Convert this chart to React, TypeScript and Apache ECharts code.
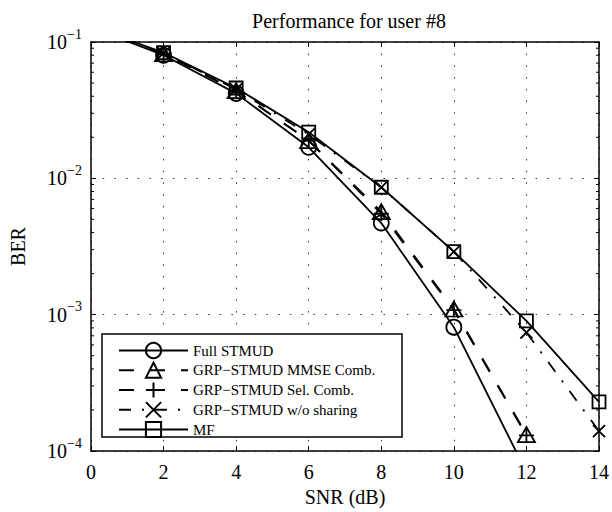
import React, { useEffect, useRef } from 'react';
import * as echarts from 'echarts';

// ---- data ----
const snr = [0, 2, 4, 6, 8, 10, 12, 14];
const fullStmud = [0.128, 0.080, 0.042, 0.0169, 0.0047, 0.00081, 0.00007, null];
const grpMmse = [0.13, 0.082, 0.044, 0.0189, 0.0057, 0.0011, 0.000132, null];
const grpSel = [0.13, 0.082, 0.044, 0.0189, 0.0055, 0.00108, 0.00013, null];
const grpNoShare = [0.13, 0.083, 0.045, 0.021, 0.0086, 0.0029, 0.00074, 0.00014];
const mf = [0.13, 0.0835, 0.046, 0.0218, 0.0086, 0.0029, 0.0009, 0.000229];
const seriesNames = [
  'Full STMUD',
  'GRP\u2212STMUD MMSE Comb.',
  'GRP\u2212STMUD Sel. Comb.',
  'GRP\u2212STMUD w/o sharing',
  'MF',
];
const xTicks = [0, 2, 4, 6, 8, 10, 12, 14];
const yDecades = [1e-4, 1e-3, 1e-2, 1e-1];
const yTickExponents = ['\u22124', '\u22123', '\u22122', '\u22121'];
const minorMultipliers = [2, 3, 4, 5, 6, 7, 8, 9];

const FONT = "'Liberation Serif', 'DejaVu Serif', 'Times New Roman', serif";

const PLUS = 'path://M5,0L5,10M0,5L10,5';
const CROSS = 'path://M0,0L10,10M10,0L0,10';

export default function App() {
  const ref = useRef<HTMLDivElement>(null);

  useEffect(() => {
    if (!ref.current) return;
    const chart = echarts.init(ref.current, null, { renderer: 'svg' });

    const toPairs = (vals: (number | null)[]) => snr.map((x, i) => [x, vals[i] === null ? null : vals[i]]);

    const minorTicks: number[] = [];
    for (let d = 0; d < yDecades.length - 1; d++) {
      for (const m of minorMultipliers) minorTicks.push(yDecades[d] * m);
    }

    const lineBase = (name: string, vals: (number | null)[], symbol: string, symbolSize: any, dash: any) => ({
      name,
      type: 'line',
      data: toPairs(vals),
      symbol,
      symbolSize,
      showSymbol: true,
      connectNulls: false,
      clip: true,
      lineStyle: { color: '#000', width: 1.8, type: dash },
      itemStyle: { color: 'transparent', borderColor: '#000', borderWidth: 1.8 },
      emphasis: { disabled: true },
      z: 3,
    });

    const axisCommon = {
      axisLine: { show: true, onZero: false, lineStyle: { color: '#000', width: 1.5 } },
      axisTick: { show: true, inside: true, length: 5, lineStyle: { color: '#000', width: 1 } },
    };

    chart.setOption({
      animation: false,
      backgroundColor: '#fff',
      title: {
        text: 'Performance for user #8',
        left: 344,
        textAlign: 'center',
        top: 6,
        textStyle: { fontFamily: FONT, fontSize: 20, fontWeight: 'normal', color: '#000' },
      },
      grid: { left: 89, right: 12, top: 42, bottom: 61, containLabel: false },
      xAxis: [
        {
          type: 'value',
          min: 0,
          max: 14,
          interval: 2,
          position: 'bottom',
          name: 'SNR (dB)',
          nameLocation: 'middle',
          nameGap: 33,
          nameTextStyle: { fontFamily: FONT, fontSize: 20, color: '#000' },
          ...axisCommon,
          axisLabel: {
            fontFamily: FONT,
            fontSize: 20,
            color: '#000',
            margin: 11,
            formatter: (v: number) => String(xTicks[xTicks.indexOf(v)]),
          },
          splitLine: { show: true, lineStyle: { color: '#333', width: 1, type: [1.5, 10.2] } },
        },
        {
          type: 'value',
          min: 0,
          max: 14,
          interval: 2,
          position: 'top',
          ...axisCommon,
          axisLabel: { show: false },
          splitLine: { show: false },
        },
      ],
      yAxis: [
        {
          type: 'log',
          logBase: 10,
          min: 1e-4,
          max: 1e-1,
          interval: 1,
          position: 'left',
          name: 'BER',
          nameLocation: 'middle',
          nameGap: 63,
          nameRotate: 90,
          nameTextStyle: { fontFamily: FONT, fontSize: 20, color: '#000' },
          ...axisCommon,
          axisLabel: {
            margin: 9,
            formatter: (v: number) => {
              const i = yDecades.findIndex((d) => Math.abs(Math.log10(d) - Math.log10(v)) < 0.01);
              return `{b|10}{s|${yTickExponents[i]}}`;
            },
            rich: {
              b: { fontFamily: FONT, fontSize: 20, color: '#000' },
              s: { fontFamily: FONT, fontSize: 14, color: '#000', padding: [0, 0, 16, 0] },
            },
          },
          splitLine: { show: true, lineStyle: { color: '#333', width: 1, type: [1.5, 10.2] } },
        },
        {
          type: 'log',
          logBase: 10,
          min: 1e-4,
          max: 1e-1,
          interval: 1,
          position: 'right',
          ...axisCommon,
          axisLabel: { show: false },
          splitLine: { show: false },
        },
      ],
      legend: {
        data: seriesNames,
        orient: 'vertical',
        left: 113,
        top: 336,
        itemWidth: 69,
        itemHeight: 19,
        itemGap: 0.75,
        selectedMode: false,
        textStyle: { fontFamily: FONT, fontSize: 15, color: '#000', lineHeight: 19 },
        z: 20,
      },
      graphic: [
        {
          type: 'rect',
          shape: { x: 102, y: 334, width: 300, height: 103 },
          style: { fill: '#fff', stroke: '#000', lineWidth: 1.5 },
          z: 15,
          silent: true,
        },
      ],
      series: [
        lineBase(seriesNames[0], fullStmud, 'circle', 15, 'solid'),
        lineBase(seriesNames[1], grpMmse, 'triangle', [17, 15], [15, 16]),
        lineBase(seriesNames[2], grpSel, PLUS, 15, [15, 16]),
        lineBase(seriesNames[3], grpNoShare, CROSS, 12, [12, 11, 2, 11]),
        lineBase(seriesNames[4], mf, 'rect', 13, 'solid'),
        {
          type: 'custom',
          name: 'minorTicks',
          silent: true,
          clip: false,
          z: 5,
          data: minorTicks.map((v) => [0, v]),
          renderItem: (_params: any, api: any) => {
            const v = api.value(1);
            const p0 = api.coord([0, v]);
            const p1 = api.coord([14, v]);
            const st = { stroke: '#000', lineWidth: 1 };
            return {
              type: 'group',
              children: [
                { type: 'line', shape: { x1: p0[0], y1: p0[1], x2: p0[0] + 3, y2: p0[1] }, style: st },
                { type: 'line', shape: { x1: p1[0], y1: p1[1], x2: p1[0] - 3, y2: p1[1] }, style: st },
              ],
            };
          },
        },
      ],
    });

    return () => chart.dispose();
  }, []);

  return (
    <div
      ref={ref}
      style={{ position: 'fixed', left: 0, top: 0, width: 612, height: 512, background: '#fff' }}
    />
  );
}
